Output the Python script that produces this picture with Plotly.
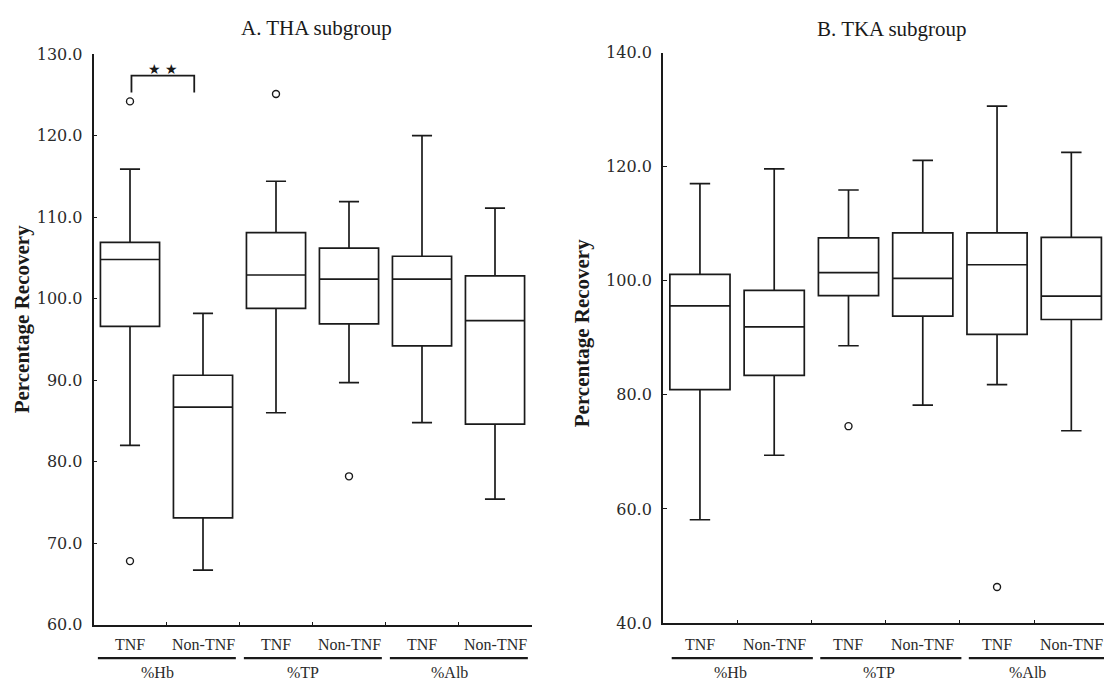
import plotly.graph_objects as go

# ---- data ----
categories = ["TNF", "Non-TNF", "TNF", "Non-TNF", "TNF", "Non-TNF"]
groups = ["%Hb", "%TP", "%Alb"]
positions = [0, 1, 2, 3, 4, 5]

tha_q1 = [96.6, 73.1, 98.8, 96.9, 94.2, 84.6]
tha_median = [104.8, 86.7, 102.9, 102.4, 102.4, 97.3]
tha_q3 = [106.9, 90.6, 108.1, 106.2, 105.2, 102.8]
tha_low = [82.0, 66.7, 86.0, 89.7, 84.8, 75.4]
tha_high = [115.9, 98.2, 114.4, 111.9, 120.0, 111.1]
tha_out_x = [0, 0, 2, 3]
tha_out_y = [124.2, 67.8, 125.1, 78.2]

tka_q1 = [80.9, 83.4, 97.4, 93.8, 90.6, 93.2]
tka_median = [95.6, 91.9, 101.4, 100.4, 102.8, 97.3]
tka_q3 = [101.1, 98.3, 107.5, 108.4, 108.4, 107.6]
tka_low = [58.1, 69.4, 88.6, 78.2, 81.8, 73.7]
tka_high = [117.0, 119.6, 115.9, 121.1, 130.6, 122.5]
tka_out_x = [2, 4]
tka_out_y = [74.5, 46.3]

W, H = 1104, 680
OFF, HH = 8.1, 662.3   # pixel -> paper mapping (calibrated to the rendered page)


def py(ypx):
    return 1 - (ypx - OFF) / HH


SERIF = "Liberation Serif, Times New Roman, serif"
TICKF = "DejaVu Serif, serif"
INK = "#1a1a1a"

fig = go.Figure()


def add_panel(xa, ya, q1, med, q3, lo, hi, ox, oy, width):
    fig.add_trace(go.Box(
        x=positions, q1=q1, median=med, q3=q3, lowerfence=lo, upperfence=hi,
        width=width, whiskerwidth=0.34, boxpoints=False,
        fillcolor="white", line=dict(color=INK, width=1.7),
        xaxis=xa, yaxis=ya, showlegend=False, hoverinfo="skip"))
    fig.add_trace(go.Scatter(
        x=ox, y=oy, mode="markers",
        marker=dict(symbol="circle-open", size=7, color=INK, line=dict(width=1.4)),
        xaxis=xa, yaxis=ya, showlegend=False, hoverinfo="skip"))


add_panel("x", "y", tha_q1, tha_median, tha_q3, tha_low, tha_high, tha_out_x, tha_out_y, 0.81)
add_panel("x2", "y2", tka_q1, tka_median, tka_q3, tka_low, tka_high, tka_out_x, tka_out_y, 0.81)

common_x = dict(showline=True, linecolor=INK, linewidth=2, showgrid=False, zeroline=False,
                tickvals=[-0.5, 0.5, 1.5, 2.5, 3.5, 4.5, 5.5], ticks="inside", ticklen=3,
                tickcolor=INK, showticklabels=False, fixedrange=True)
common_y = dict(showline=True, linecolor=INK, linewidth=1.5, showgrid=False, zeroline=False,
                ticks="inside", ticklen=4, tickcolor=INK, tickformat=".1f", ticklabelstandoff=6,
                tickfont=dict(family=TICKF, size=16, color="#2a2a2a"), fixedrange=True)

fig.update_layout(
    width=W, height=H, autosize=False, margin=dict(l=0, r=0, t=0, b=0, pad=0),
    paper_bgcolor="white", plot_bgcolor="white",
    xaxis=dict(domain=[93.5 / W, 531.5 / W], range=[-0.5, 5.5], anchor="y", **common_x),
    yaxis=dict(domain=[py(625), py(53.3)], range=[60, 130], dtick=10, anchor="x", **common_y),
    xaxis2=dict(domain=[662.8 / W, 1.0], range=[-0.5, 5.44], anchor="y2", **common_x),
    yaxis2=dict(domain=[py(623.3), py(51.7)], range=[40, 140], dtick=20, anchor="x2", **common_y),
)

ann = []
# titles
ann.append(dict(text="A. THA subgroup", x=316.8 / W, y=py(27), xref="paper", yref="paper",
                xanchor="center", yanchor="middle", showarrow=False,
                font=dict(family=SERIF, size=21, color=INK)))
ann.append(dict(text="B. TKA subgroup", x=892 / W, y=py(28), xref="paper", yref="paper",
                xanchor="center", yanchor="middle", showarrow=False,
                font=dict(family=SERIF, size=21, color=INK)))
# y titles
for xp, yp in [(22, 319), (582, 333)]:
    ann.append(dict(text="<b>Percentage Recovery</b>", x=xp / W, y=py(yp), xref="paper", yref="paper",
                    xanchor="center", yanchor="middle", textangle=-90, showarrow=False,
                    font=dict(family=SERIF, size=21, color=INK)))
# category and group labels
for xr, goff in [("x", -0.13), ("x2", -0.085)]:
    for p, c in zip(positions, categories):
        ann.append(dict(text=c, x=p, y=py(645), xref=xr, yref="paper", showarrow=False,
                        xanchor="center", yanchor="middle",
                        font=dict(family=SERIF, size=16, color="#2a2a2a")))
    for gi, g in enumerate(groups):
        ann.append(dict(text=g, x=2 * gi + 0.5 + goff, y=py(673), xref=xr, yref="paper",
                        showarrow=False, xanchor="center", yanchor="middle",
                        font=dict(family=SERIF, size=16, color="#2a2a2a")))
# significance stars
ann.append(dict(text="★ ★", x=0.45, y=128.2, xref="x", yref="y", showarrow=False,
                xanchor="center", yanchor="middle",
                font=dict(family="DejaVu Sans", size=14, color=INK)))
fig.update_layout(annotations=ann)

shapes = []
# group underlines
for xr, a, b in [("x", -0.44, 1.45), ("x2", -0.38, 1.52)]:
    for gi in range(3):
        shapes.append(dict(type="line", xref=xr, yref="paper", x0=2 * gi + a, x1=2 * gi + b,
                           y0=py(658.5), y1=py(658.5), line=dict(color=INK, width=2.4)))
# significance bracket
shapes.append(dict(type="path", xref="x", yref="y",
                   path="M 0.02 125.3 L 0.02 127.35 L 0.88 127.35 L 0.88 125.3",
                   line=dict(color=INK, width=1.8)))
fig.update_layout(shapes=shapes)

fig.write_html("out.html")
